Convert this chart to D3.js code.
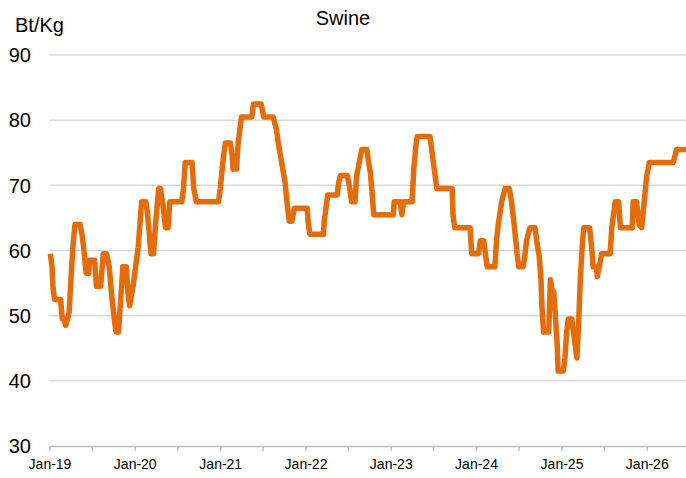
<!doctype html>
<html lang="en">
<head>
	<meta charset="UTF-8">
	<title>Swine</title>
	<style>
		body { margin: 0; background: #fff; }
		svg { display: block; font-family: Arial, "Liberation Sans", sans-serif; }
		.grid line { stroke: #d9d9d9; stroke-width: 1.5; }
		.x-axis path, .x-axis line { stroke: #bfbfbf; stroke-width: 1.5; }
		.x-axis text { fill: #000; font-size: 14px; }
		.y-label { fill: #000; font-size: 20px; }
	</style>
</head>
<body>
	<script src="https://cdn.jsdelivr.net/npm/d3@7"></script>
	<script>
		// dates as decimal years at each change of level
		var dateYears = [
			2019.01, 2019.03, 2019.04, 2019.06, 2019.13, 2019.15, 2019.17, 2019.19, 2019.23, 2019.26,
			2019.28, 2019.30, 2019.36, 2019.38, 2019.40, 2019.43, 2019.46, 2019.47, 2019.53, 2019.55,
			2019.60, 2019.63, 2019.67, 2019.70, 2019.73, 2019.76, 2019.78, 2019.81, 2019.83, 2019.86,
			2019.90, 2019.92, 2019.94, 2019.98, 2020.01, 2020.04, 2020.08, 2020.13, 2020.15, 2020.19,
			2020.22, 2020.24, 2020.28, 2020.30, 2020.33, 2020.36, 2020.39, 2020.41, 2020.55, 2020.57,
			2020.59, 2020.67, 2020.69, 2020.72, 2020.98, 2021.00, 2021.03, 2021.06, 2021.12, 2021.14,
			2021.15, 2021.19, 2021.21, 2021.23, 2021.25, 2021.37, 2021.39, 2021.48, 2021.51, 2021.62,
			2021.66, 2021.68, 2021.72, 2021.76, 2021.79, 2021.81, 2021.84, 2021.87, 2022.02, 2022.03,
			2022.05, 2022.21, 2022.22, 2022.26, 2022.37, 2022.39, 2022.41, 2022.49, 2022.52, 2022.54,
			2022.58, 2022.60, 2022.63, 2022.66, 2022.72, 2022.74, 2022.76, 2022.78, 2022.80, 2023.03,
			2023.04, 2023.11, 2023.13, 2023.15, 2023.25, 2023.27, 2023.29, 2023.31, 2023.46, 2023.48,
			2023.52, 2023.54, 2023.72, 2023.73, 2023.75, 2023.93, 2023.95, 2024.03, 2024.05, 2024.09,
			2024.11, 2024.13, 2024.22, 2024.24, 2024.26, 2024.30, 2024.34, 2024.39, 2024.42, 2024.45,
			2024.48, 2024.50, 2024.55, 2024.57, 2024.59, 2024.63, 2024.69, 2024.71, 2024.74, 2024.76,
			2024.77, 2024.79, 2024.85, 2024.87, 2024.89, 2024.91, 2024.93, 2024.95, 2024.96, 2025.02,
			2025.04, 2025.06, 2025.08, 2025.12, 2025.14, 2025.18, 2025.20, 2025.22, 2025.24, 2025.26,
			2025.33, 2025.36, 2025.37, 2025.41, 2025.42, 2025.45, 2025.47, 2025.57, 2025.59, 2025.63,
			2025.67, 2025.69, 2025.83, 2025.84, 2025.88, 2025.91, 2025.94, 2025.97, 2026.00, 2026.03,
			2026.31, 2026.33, 2026.35, 2026.46
		];

		// swine price, Bt/Kg
		var prices = [
			59.5, 57.5, 54.5, 52.5, 52.5, 49.5, 49.5, 48.5, 50.5, 57.5,
			61.5, 64, 64, 62.5, 60.5, 56.5, 56.5, 58.5, 58.5, 54.5,
			54.5, 59.5, 59.5, 57.5, 53, 49.5, 47.5, 47.5, 51.5, 57.5,
			57.5, 53.5, 51.5, 54.5, 57.5, 60.5, 67.5, 67.5, 65.5, 59.5,
			59.5, 63.5, 69.5, 69.5, 67, 63.5, 63.5, 67.5, 67.5, 69.5,
			73.5, 73.5, 69.5, 67.5, 67.5, 69.5, 73.5, 76.5, 76.5, 74.5,
			72.5, 72.5, 76.5, 78.5, 80.5, 80.5, 82.5, 82.5, 80.5, 80.5,
			78.5, 76.5, 73.5, 70.5, 66.5, 64.5, 64.5, 66.5, 66.5, 64.5,
			62.5, 62.5, 64.5, 68.5, 68.5, 70.5, 71.5, 71.5, 69.5, 67.5,
			67.5, 71.5, 73.5, 75.5, 75.5, 73.5, 72, 69, 65.5, 65.5,
			67.5, 67.5, 65.5, 67.5, 67.5, 72.5, 75.5, 77.5, 77.5, 75.5,
			71.5, 69.5, 69.5, 65.5, 63.5, 63.5, 59.5, 59.5, 61.5, 61.5,
			59.5, 57.5, 57.5, 61.5, 64, 67.5, 69.5, 69.5, 67, 63.5,
			59.5, 57.5, 57.5, 59, 61.5, 63.5, 63.5, 61.5, 59, 55.5,
			51.5, 47.5, 47.5, 55.5, 54, 53.5, 49.5, 45.5, 41.5, 41.5,
			43.5, 47.5, 49.5, 49.5, 47.5, 43.5, 48.5, 55.5, 60, 63.5,
			63.5, 59.5, 57.5, 57.5, 56, 58, 59.5, 59.5, 63.5, 67.5,
			67.5, 63.5, 63.5, 67.5, 67.5, 64, 63.5, 67.5, 71.5, 73.5,
			73.5, 74.5, 75.5, 75.5
		];

		var yTicks = [30, 40, 50, 60, 70, 80, 90];

		var w = 686,
			h = 478,
			plotLeft = 49.5,
			plotRight = 686,
			plotTop = 55,
			plotBottom = 446;

		// decimal year -> Date
		var toDate = function(yr) {
			var y = Math.floor(yr),
				start = Date.UTC(y, 0, 1),
				end = Date.UTC(y + 1, 0, 1);
			return new Date(start + (yr - y) * (end - start));
		};

		var data = dateYears.map(function(d, i) {
			return { date: toDate(d), value: prices[i] };
		});

		var svg = d3.select('body')
			.append('svg')
			.attr('width', w)
			.attr('height', h);

		var xScale = d3.scaleUtc()
			.domain([new Date(Date.UTC(2019, 0, 1)), data[data.length - 1].date])
			.range([plotLeft, plotRight]);

		var yScale = d3.scaleLinear()
			.domain([30, 90])
			.range([plotBottom, plotTop]);

		// horizontal gridlines
		svg.append('g')
			.attr('class', 'grid')
			.selectAll('line')
			.data(yTicks.slice(1))
			.enter()
			.append('line')
			.attr('x1', plotLeft)
			.attr('x2', plotRight)
			.attr('y1', function(d) { return yScale(d); })
			.attr('y2', function(d) { return yScale(d); });

		// y labels
		svg.append('g')
			.selectAll('text')
			.data(yTicks)
			.enter()
			.append('text')
			.attr('class', 'y-label')
			.attr('x', 31)
			.attr('y', function(d) { return yScale(d); })
			.attr('dy', '0.36em')
			.attr('text-anchor', 'end')
			.text(function(d) { return d; });

		// x axis, ticks every six months, labels on January
		var fmt = d3.utcFormat('%b-%y');
		var xAxis = d3.axisBottom(xScale)
			.tickValues(d3.utcMonth.every(6).range(xScale.domain()[0], xScale.domain()[1]))
			.tickSize(5)
			.tickSizeOuter(0)
			.tickPadding(8)
			.tickFormat(function(d) { return d.getUTCMonth() === 0 ? fmt(d) : ''; });

		svg.append('g')
			.attr('class', 'x-axis')
			.attr('transform', 'translate(0,' + plotBottom + ')')
			.call(xAxis)
			.call(function(g) { g.attr('font-family', null).attr('font-size', null); });

		// price line
		var line = d3.line()
			.x(function(d) { return xScale(d.date); })
			.y(function(d) { return yScale(d.value); });

		svg.append('path')
			.datum(data)
			.attr('d', line)
			.attr('fill', 'none')
			.attr('stroke', '#e46c0a')
			.attr('stroke-width', 5.5)
			.attr('stroke-linejoin', 'round')
			.attr('stroke-linecap', 'butt');

		// title and unit
		svg.append('text')
			.attr('x', 343)
			.attr('y', 25)
			.attr('text-anchor', 'middle')
			.attr('font-size', 20)
			.text('Swine');

		svg.append('text')
			.attr('x', 15)
			.attr('y', 32)
			.attr('font-size', 20)
			.text('Bt/Kg');
	</script>
</body>
</html>
